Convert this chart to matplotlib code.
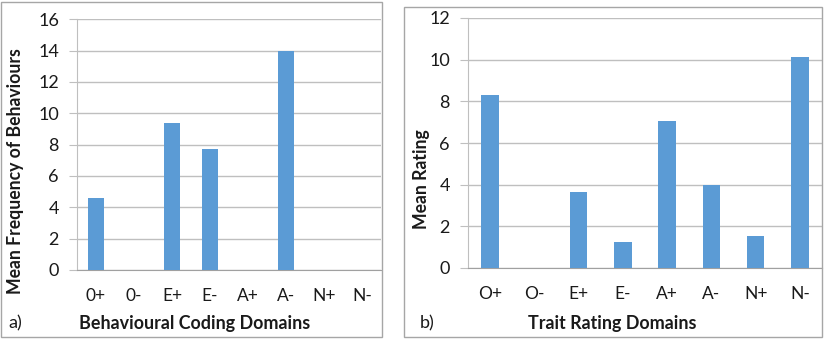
import matplotlib
matplotlib.use("Agg")
import matplotlib.pyplot as plt
from matplotlib.patches import Rectangle

plt.rcParams['font.family'] = ['Lato', 'DejaVu Sans']

cats_a = ["0+", "0-", "E+", "E-", "A+", "A-", "N+", "N-"]
vals_a = [4.6, 0, 9.35, 7.7, 0, 14.0, 0, 0]
cats_b = ["O+", "O-", "E+", "E-", "A+", "A-", "N+", "N-"]
vals_b = [8.3, 0, 3.65, 1.25, 7.07, 4.0, 1.52, 10.15]
yticks_a = [0, 2, 4, 6, 8, 10, 12, 14, 16]
yticks_b = [0, 2, 4, 6, 8, 10, 12]

W, H = 827, 340
fig = plt.figure(figsize=(W / 100, H / 100), dpi=100)

BAR = "#5B9BD5"
GRID = "#BFBFBF"
BOX = "#A6A6A6"
TXT = "#1a1a1a"

def px_rect(x0, y0, x1, y1):
    return [x0 / W, 1 - y1 / H, (x1 - x0) / W, (y1 - y0) / H]

# panel boxes
for (x0, y0, x1, y1) in [(0.5, 2, 382, 337), (404, 7, 822, 337)]:
    fig.patches.append(Rectangle((x0 / W, 1 - y1 / H), (x1 - x0) / W, (y1 - y0) / H,
                                 transform=fig.transFigure, fill=False,
                                 edgecolor=BOX, linewidth=1.0))

def make(ax, cats, vals, yticks):
    x = range(len(cats))
    ax.bar(x, vals, width=0.4, color=BAR, zorder=3)
    ax.set_xlim(-0.5, len(cats) - 0.5)
    ax.set_ylim(yticks[0], yticks[-1])
    ax.set_yticks(yticks)
    ax.set_xticks(list(x))
    ax.set_xticklabels(cats)
    ax.yaxis.grid(True, color=GRID, linewidth=1.0, zorder=0)
    ax.set_axisbelow(True)
    for s in ["top", "right"]:
        ax.spines[s].set_visible(False)
    ax.spines["left"].set_color(GRID)
    ax.spines["bottom"].set_color("#A0A0A0")
    ax.tick_params(axis="y", length=6, color=GRID, labelsize=13, pad=7, labelcolor=TXT)
    ax.tick_params(axis="x", length=0, labelsize=12.5, pad=13, labelcolor=TXT)

ax1 = fig.add_axes(px_rect(77, 19.3, 381, 270))
make(ax1, cats_a, vals_a, yticks_a)
ax2 = fig.add_axes(px_rect(468, 18, 822, 268))
make(ax2, cats_b, vals_b, yticks_b)

fig.text(16 / W, 1 - 171 / H, "Mean Frequency of Behaviours", rotation=90,
         ha="center", va="center", fontsize=12.7, fontweight="bold", color=TXT)
fig.text(422 / W, 1 - 179 / H, "Mean Rating", rotation=90,
         ha="center", va="center", fontsize=12.7, fontweight="bold", color=TXT)
fig.text(195 / W, 1 - 323 / H, "Behavioural Coding Domains",
         ha="center", va="center", fontsize=12.9, fontweight="bold", color=TXT)
fig.text(612 / W, 1 - 323 / H, "Trait Rating Domains",
         ha="center", va="center", fontsize=12.9, fontweight="bold", color=TXT)
fig.text(8 / W, 1 - 323 / H, "a)", ha="left", va="center", fontsize=13, color=TXT)
fig.text(420 / W, 1 - 323 / H, "b)", ha="left", va="center", fontsize=13, color=TXT)

fig.savefig("out.png", dpi=100)
